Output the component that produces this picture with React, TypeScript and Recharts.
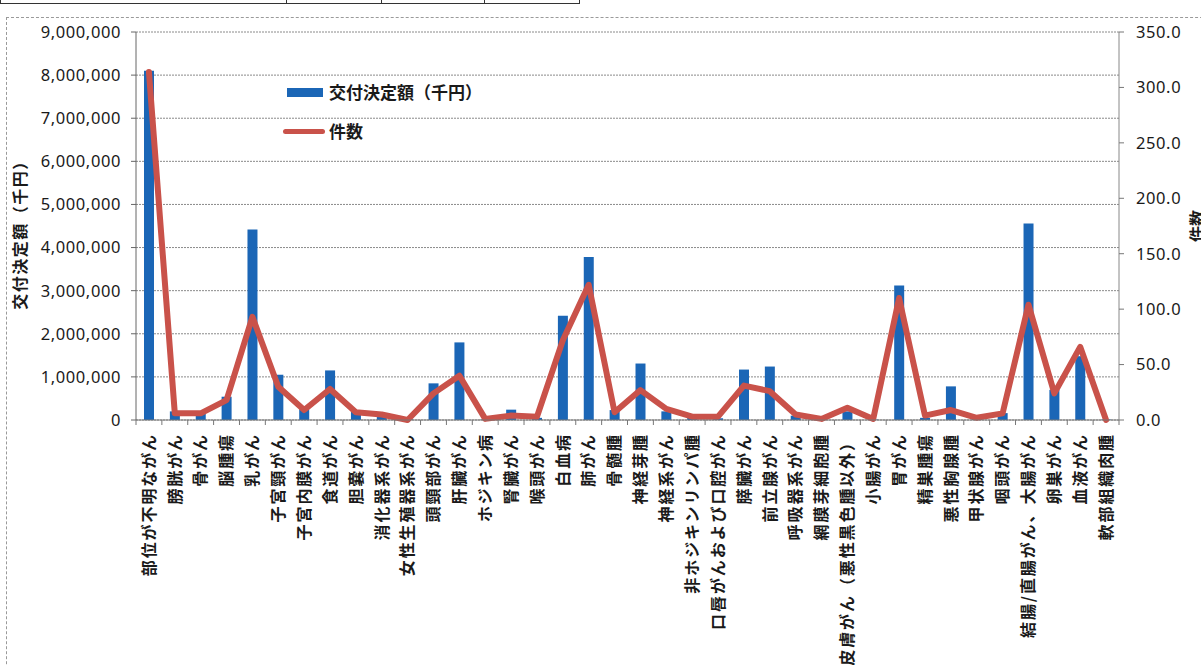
import React from 'react';
import { ComposedChart, Bar, Line, XAxis, YAxis, CartesianGrid } from 'recharts';

const categories = [
  '部位が不明ながん', '膀胱がん', '骨がん', '脳腫瘍', '乳がん', '子宮頸がん', '子宮内膜がん', '食道がん',
  '胆嚢がん', '消化器系がん', '女性生殖器系がん', '頭頸部がん', '肝臓がん', 'ホジキン病', '腎臓がん', '喉頭がん',
  '白血病', '肺がん', '骨髄腫', '神経芽腫', '神経系がん', '非ホジキンリンパ腫', '口唇がんおよび口腔がん', '膵臓がん',
  '前立腺がん', '呼吸器系がん', '網膜芽細胞腫', '皮膚がん（悪性黒色腫以外）', '小腸がん', '胃がん', '精巣腫瘍',
  '悪性胸腺腫', '甲状腺がん', '咽頭がん', '結腸/直腸がん、大腸がん', '卵巣がん', '血液がん', '軟部組織肉腫',
];

const amounts = [
  8100000, 200000, 150000, 540000, 4420000, 1050000, 250000, 1150000,
  200000, 100000, 20000, 850000, 1800000, 10000, 240000, 50000,
  2420000, 3780000, 230000, 1310000, 200000, 50000, 40000, 1170000,
  1240000, 100000, 30000, 200000, 10000, 3120000, 50000,
  780000, 20000, 160000, 4560000, 700000, 1480000, 10000,
];

const counts = [
  314, 6, 6, 18, 93, 30, 9, 28,
  7, 5, 0, 24, 40, 1, 4, 3,
  72, 122, 7, 27, 10, 3, 3, 31,
  26, 5, 1, 11, 1, 110, 4,
  9, 2, 6, 104, 24, 66, 0,
];

const leftTicks = [0, 1000000, 2000000, 3000000, 4000000, 5000000, 6000000, 7000000, 8000000, 9000000];
const rightTicks = [0, 50, 100, 150, 200, 250, 300, 350];

const amountName = '交付決定額（千円）';
const countName = '件数';

const data = categories.map((name, i) => ({ name, amount: amounts[i], count: counts[i] }));

const W = 1201;
const H = 665;
const M = { top: 32, right: 22, bottom: 0, left: 0 };
const LEFT_W = 136;
const RIGHT_W = 60;
const PLOT_W = W - M.left - M.right - LEFT_W - RIGHT_W;
const BAND = PLOT_W / categories.length;

const BLUE = '#1b66b6';
const RED = '#c9524a';
const JP = '"Noto Sans CJK JP", "Noto Sans", sans-serif';
const NUM = '"Noto Sans", "DejaVu Sans", sans-serif';

const XTick = (props: any) => {
  const { x, y, payload, index } = props;
  const last = index === categories.length - 1;
  return (
    <g transform={`translate(${x},${y})`}>
      <line x1={-BAND / 2} x2={-BAND / 2} y1={0} y2={5} stroke="#777" strokeWidth={1} />
      {last && <line x1={BAND / 2} x2={BAND / 2} y1={0} y2={5} stroke="#777" strokeWidth={1} />}
      <text
        transform="rotate(-90)"
        x={-13}
        y={0}
        dy="0.36em"
        textAnchor="end"
        fontFamily={JP}
        fontSize={16}
        fontWeight={700}
        letterSpacing={1.9}
        fill="#1a1a1a"
      >
        {payload.value}
      </text>
    </g>
  );
};

const LeftTitle = (props: any) => {
  const vb = props.viewBox || {};
  const cy = (vb.y || 0) + (vb.height || 0) / 2 + 5;
  return (
    <text
      transform={`translate(20,${cy}) rotate(-90)`}
      textAnchor="middle"
      dy="0.36em"
      fontFamily={JP}
      fontSize={16}
      fontWeight={700}
      letterSpacing={1.5}
      fill="#1a1a1a"
    >
      {amountName}
    </text>
  );
};

const RightTitle = (props: any) => {
  const vb = props.viewBox || {};
  const cy = (vb.y || 0) + (vb.height || 0) / 2;
  return (
    <text
      transform={`translate(1197,${cy}) rotate(-90)`}
      textAnchor="middle"
      dy="0.36em"
      fontFamily={JP}
      fontSize={16}
      fontWeight={700}
      fill="#1a1a1a"
    >
      {countName}
    </text>
  );
};

const LegendBox = () => (
  <div style={{ position: 'absolute', left: 283, top: 80, fontFamily: JP, fontSize: 17, fontWeight: 700, color: '#1a1a1a', lineHeight: '24px' }}>
    <div style={{ display: 'flex', alignItems: 'center', height: 24 }}>
      <span style={{ display: 'inline-block', width: 36, height: 9, background: BLUE, marginLeft: 4, marginRight: 6 }} />
      <span>{amountName}</span>
    </div>
    <div style={{ display: 'flex', alignItems: 'center', height: 24, marginTop: 15 }}>
      <span style={{ display: 'inline-block', width: 42, height: 5, background: RED, borderRadius: 3, marginLeft: 0, marginRight: 4 }} />
      <span>{countName}</span>
    </div>
  </div>
);

export default function App() {
  return (
    <div style={{ position: 'absolute', left: 0, top: 0, width: W, height: H, overflow: 'hidden', background: '#fff' }}>
      {/* table fragment at top */}
      <div style={{ position: 'absolute', left: 0, top: -10, width: 578, height: 12, border: '1.5px solid #333' }} />
      <div style={{ position: 'absolute', left: 286, top: 0, width: 0, height: 3, borderLeft: '1.5px solid #333' }} />
      <div style={{ position: 'absolute', left: 381, top: 0, width: 0, height: 3, borderLeft: '1.5px solid #333' }} />
      <div style={{ position: 'absolute', left: 484, top: 0, width: 0, height: 3, borderLeft: '1.5px solid #333' }} />
      {/* chart frame */}
      <div style={{ position: 'absolute', left: 6, top: 17, width: 1300, height: 800, border: '1px dashed #9a9a9a' }} />
      <div style={{ position: 'absolute', left: 0, top: 0 }}>
        <ComposedChart width={W} height={H} data={data} margin={M} barSize={10}>
          <CartesianGrid
            yAxisId="left"
            vertical={false}
            horizontal
            stroke="#8a8a8a"
            strokeDasharray="2 1"
            horizontalValues={leftTicks}
          />
          <XAxis
            dataKey="name"
            interval={0}
            height={H - 420 - M.bottom}
            tick={<XTick />}
            tickLine={false}
            tickSize={0}
            tickMargin={0}
            axisLine={{ stroke: '#777', strokeWidth: 1 }}
          />
          <YAxis
            yAxisId="left"
            orientation="left"
            width={LEFT_W}
            domain={[0, 9000000]}
            ticks={leftTicks}
            interval={0}
            tickFormatter={(v: number) => v.toLocaleString('en-US')}
            tick={{ fontFamily: NUM, fontSize: 16.5, letterSpacing: 0.6, fill: '#1a1a1a' }}
            tickSize={5}
            tickMargin={10}
            tickLine={{ stroke: '#666' }}
            axisLine={{ stroke: '#666', strokeWidth: 1 }}
            label={<LeftTitle />}
          />
          <YAxis
            yAxisId="right"
            orientation="right"
            width={RIGHT_W}
            domain={[0, 350]}
            ticks={rightTicks}
            interval={0}
            tickFormatter={(v: number) => v.toFixed(1)}
            tick={{ fontFamily: NUM, fontSize: 16.5, letterSpacing: 0.6, fill: '#1a1a1a', textAnchor: 'start' }}
            tickSize={5}
            tickMargin={12}
            tickLine={{ stroke: '#777' }}
            axisLine={{ stroke: '#888', strokeWidth: 1 }}
            label={<RightTitle />}
          />
          <Bar yAxisId="left" dataKey="amount" name={amountName} fill={BLUE} isAnimationActive={false} />
          <Line
            yAxisId="right"
            dataKey="count"
            name={countName}
            type="linear"
            stroke={RED}
            strokeWidth={6}
            strokeLinejoin="round"
            strokeLinecap="round"
            dot={false}
            activeDot={false}
            isAnimationActive={false}
          />
        </ComposedChart>
      </div>
      <LegendBox />
    </div>
  );
}
